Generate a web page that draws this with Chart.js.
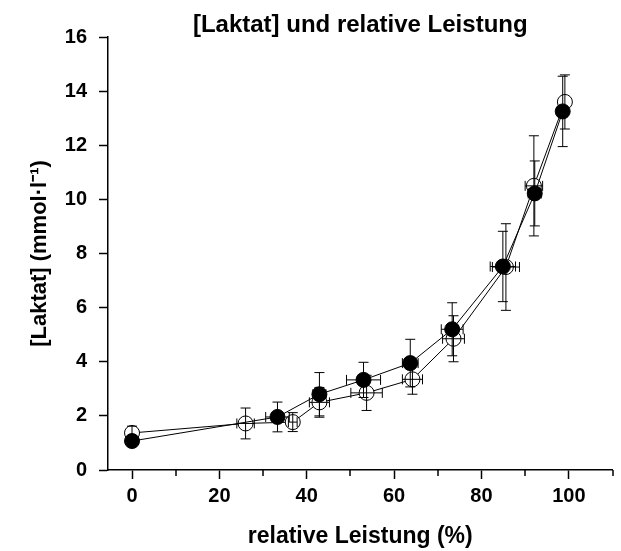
<!DOCTYPE html>
<html>
<head>
<meta charset="utf-8">
<script src="https://cdn.jsdelivr.net/npm/chart.js@4/dist/chart.umd.min.js"></script>
<style>
  html, body { margin: 0; padding: 0; background: #fff; }
  #wrap { width: 621px; height: 551px; }
</style>
</head>
<body>
<div id="wrap"><canvas id="c"></canvas></div>
<script>
// Lactate vs. relative power, two conditions (open / filled circles)

const openX    = [0, 26, 36.8, 42.9, 53.7, 64.2, 73.6, 85.6, 92, 99.1];
const openY    = [1.37, 1.72, 1.77, 2.5, 2.85, 3.35, 4.85, 7.5, 10.5, 13.6];
const openYErr = [0.25, 0.57, 0.35, 0.55, 0.65, 0.55, 0.85, 1.6, 1.85, 1.0];
const openXErr = [0, 2, 1, 2.3, 3.6, 2.3, 2.5, 3.1, 2, 0];

const filledX    = [0, 33.3, 42.9, 53, 63.7, 73.3, 84.9, 92.2, 98.6];
const filledY    = [1.07, 1.96, 2.8, 3.33, 3.95, 5.2, 7.52, 10.22, 13.25];
const filledYErr = [0.2, 0.55, 0.8, 0.65, 0.88, 0.98, 1.3, 1.2, 1.3];
const filledXErr = [0, 2.7, 1.5, 3.9, 1.8, 2.5, 2.9, 1.5, 0];

const xMajorTicks = [0, 20, 40, 60, 80, 100];
const xMinorTicks = [10, 30, 50, 70, 90, 110];

const FONT = '"Liberation Sans", Arial, Helvetica, sans-serif';
Chart.defaults.font.family = FONT;
Chart.defaults.color = '#000';

function toPoints(xs, ys) {
    return xs.map((x, i) => ({ x: x, y: ys[i] }));
}

// Error bars (x and y) drawn through the chart scales
const errorBars = {
    id: 'errorBars',
    afterDatasetDraw(chart, args) {
        const ds = chart.data.datasets[args.index];
        if (!ds.yErr) return;
        const xs = chart.scales.x, ys = chart.scales.y;
        const ctx = chart.ctx;
        const cap = 5;
        ctx.save();
        ctx.strokeStyle = '#000';
        ctx.lineWidth = 1;
        ds.data.forEach((p, i) => {
            const px = xs.getPixelForValue(p.x);
            const py = ys.getPixelForValue(p.y);
            const ey = ds.yErr[i] || 0;
            const ex = ds.xErr[i] || 0;
            ctx.beginPath();
            if (ey > 0) {
                const t = ys.getPixelForValue(p.y + ey);
                const b = ys.getPixelForValue(p.y - ey);
                ctx.moveTo(px, t); ctx.lineTo(px, b);
                ctx.moveTo(px - cap, t); ctx.lineTo(px + cap, t);
                ctx.moveTo(px - cap, b); ctx.lineTo(px + cap, b);
            }
            if (ex > 0) {
                const l = xs.getPixelForValue(p.x - ex);
                const r = xs.getPixelForValue(p.x + ex);
                ctx.moveTo(l, py); ctx.lineTo(r, py);
                ctx.moveTo(l, py - cap); ctx.lineTo(l, py + cap);
                ctx.moveTo(r, py - cap); ctx.lineTo(r, py + cap);
            }
            ctx.stroke();
        });
        ctx.restore();
    }
};

// Short minor ticks on the x axis
const minorTicks = {
    id: 'minorTicks',
    afterDraw(chart) {
        const xs = chart.scales.x;
        const ctx = chart.ctx;
        const y0 = xs.top;
        ctx.save();
        ctx.strokeStyle = '#000';
        ctx.lineWidth = 1.5;
        ctx.beginPath();
        xMinorTicks.forEach(v => {
            const px = Math.round(xs.getPixelForValue(v));
            ctx.moveTo(px, y0);
            ctx.lineTo(px, y0 + 6);
        });
        ctx.stroke();
        ctx.restore();
    }
};

new Chart(document.getElementById('c'), {
    type: 'scatter',
    data: {
        datasets: [
            {
                label: 'filled',
                data: toPoints(filledX, filledY),
                yErr: filledYErr,
                xErr: filledXErr,
                showLine: true,
                borderColor: '#000',
                borderWidth: 1,
                pointRadius: 7.5,
                pointBackgroundColor: '#000',
                pointBorderColor: '#000',
                pointBorderWidth: 1
            },
            {
                label: 'open',
                data: toPoints(openX, openY),
                yErr: openYErr,
                xErr: openXErr,
                showLine: true,
                borderColor: '#000',
                borderWidth: 1,
                pointRadius: 7.5,
                pointBackgroundColor: '#fff',
                pointBorderColor: '#000',
                pointBorderWidth: 1
            }
        ]
    },
    options: {
        responsive: true,
        maintainAspectRatio: false,
        animation: false,
        clip: false,
        layout: { padding: { top: 0, right: 7, bottom: 0, left: 0 } },
        plugins: {
            legend: { display: false },
            tooltip: { enabled: false },
            title: {
                display: true,
                fullSize: false, // centre over the plot area
                text: '[Laktat] und relative Leistung',
                color: '#000',
                font: { size: 24, weight: 'bold', lineHeight: 1 },
                padding: { top: 13, bottom: 0 }
            }
        },
        scales: {
            x: {
                type: 'linear',
                min: -5.5,
                max: 110,
                afterBuildTicks: s => { s.ticks = xMajorTicks.map(v => ({ value: v })); },
                afterFit: s => { s.height = 81; },
                border: { display: true, color: '#000', width: 1.5 },
                grid: { drawOnChartArea: false, drawTicks: true, tickLength: 9, tickColor: '#000', tickWidth: 1.5 },
                ticks: { color: '#000', font: { size: 20, weight: 'bold' }, padding: 5, maxRotation: 0 },
                title: {
                    display: true,
                    text: 'relative Leistung (%)',
                    color: '#000',
                    font: { size: 23, weight: 'bold' },
                    padding: { top: 0, bottom: 1 }
                }
            },
            y: {
                min: 0,
                max: 16,
                afterFit: s => { s.width = 108; },
                border: { display: true, color: '#000', width: 1.5 },
                grid: { drawOnChartArea: false, drawTicks: true, tickLength: 9, tickColor: '#000', tickWidth: 1.5 },
                ticks: { stepSize: 2, color: '#000', font: { size: 20, weight: 'bold' }, padding: 12 },
                title: {
                    display: true,
                    text: '[Laktat] (mmol·l\u207B\u00B9)',
                    color: '#000',
                    font: { size: 22, weight: 'bold' },
                    padding: { top: 27, bottom: 0 }
                }
            }
        }
    },
    plugins: [errorBars, minorTicks]
});
</script>
</body>
</html>
